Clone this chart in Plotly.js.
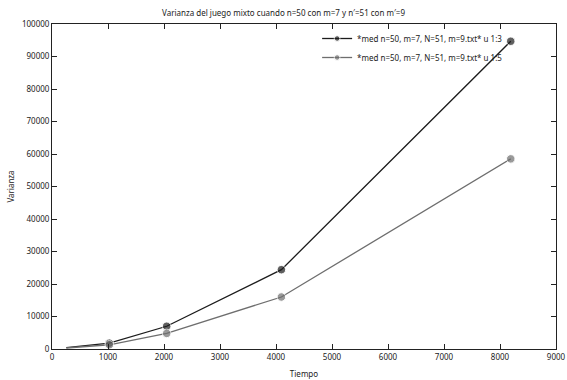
<!DOCTYPE html>
<html>
<head>
<meta charset="utf-8">
<script src="https://cdn.plot.ly/plotly-3.0.1.min.js"></script>
<style>html,body{margin:0;padding:0;background:#fff;}#chart{width:567px;height:380px;}</style>
</head>
<body>
<div id="chart"></div>
<script>
var tiempo = [256, 512, 1024, 2048, 4096, 8192];
var varianza13 = [400, 800, 1800, 7000, 24400, 94700];
var varianza15 = [300, 650, 1300, 4800, 16000, 58500];
var seriesNames = ['*med n=50, m=7, N=51, m=9.txt* u 1:3', '*med n=50, m=7, N=51, m=9.txt* u 1:5'];
var xTicks = [0, 1000, 2000, 3000, 4000, 5000, 6000, 7000, 8000, 9000];
var yTicks = [0, 10000, 20000, 30000, 40000, 50000, 60000, 70000, 80000, 90000, 100000];

var mSizes = [0, 0, 8.5, 8.5, 8.5, 8.5];
var font = 'Noto Sans, DejaVu Sans, sans-serif';
var traces = [
  {x: tiempo, y: varianza13, name: seriesNames[0], mode: 'lines+markers',
   line: {color: '#1c1c1c', width: 1.3}, marker: {color: '#1c1c1c', size: mSizes}},
  {x: tiempo, y: varianza15, name: seriesNames[1], mode: 'lines+markers',
   line: {color: '#6e6e6e', width: 1.3}, marker: {color: '#6e6e6e', size: mSizes}}
];
var axisCommon = {showgrid: false, zeroline: false, showline: true, linecolor: '#222', linewidth: 1,
  mirror: 'allticks', ticks: 'inside', ticklen: 5, tickcolor: '#222',
  tickfont: {family: font, size: 8, color: '#222'}};
var layout = {
  width: 567, height: 380,
  margin: {l: 52, r: 11, t: 24, b: 31},
  paper_bgcolor: '#fff', plot_bgcolor: '#fff',
  font: {family: font, size: 8, color: '#222'},
  title: {text: 'Varianza del juego mixto cuando n=50 con m=7 y n′=51 con m′=9',
          font: {family: font, size: 8, color: '#222'}, x: 0.5, xanchor: 'center', y: 0.966, yanchor: 'middle'},
  xaxis: Object.assign({}, axisCommon, {range: [0, 9000], tickvals: xTicks, ticktext: xTicks.map(String),
    title: {text: 'Tiempo', font: {family: font, size: 8, color: '#222'}, standoff: 10}}),
  yaxis: Object.assign({}, axisCommon, {range: [0, 100000], tickvals: yTicks, ticktext: yTicks.map(String),
    title: {text: 'Varianza', font: {family: font, size: 8, color: '#222'}, standoff: 6}}),
  showlegend: true,
  legend: {x: 0.905, xanchor: 'right', y: 1.0, yanchor: 'top', bgcolor: 'rgba(0,0,0,0)',
    font: {family: font, size: 8, color: '#222'}, tracegroupgap: 0, itemwidth: 30}
};
Plotly.newPlot('chart', traces, layout, {displayModeBar: false, staticPlot: true});
</script>
</body>
</html>
